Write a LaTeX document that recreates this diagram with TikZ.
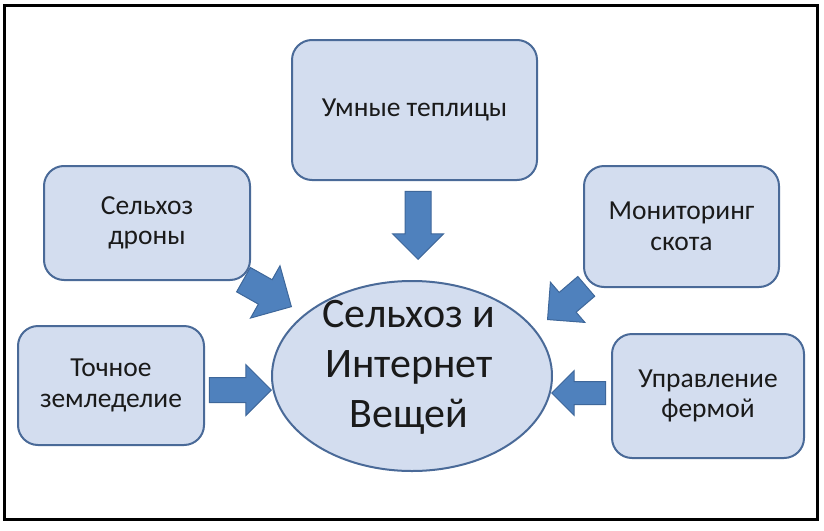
\documentclass[tikz,border=0pt]{standalone}
\usepackage{fontspec}
\setmainfont{Carlito}
\usetikzlibrary{shapes.geometric,shapes.arrows}
\definecolor{boxfill}{HTML}{D3DDEF}
\definecolor{boxline}{HTML}{4A6A98}
\definecolor{arrfill}{HTML}{4F81BD}
\definecolor{arrline}{HTML}{3E679A}
\definecolor{txt}{HTML}{1A1A1A}
\tikzset{
  topic/.style={draw=boxline, line width=2pt, fill=boxfill, rounded corners=20pt,
    align=center, text=txt, font=\fontsize{27.5}{30.5}\selectfont, inner sep=0pt},
  hub/.style={ellipse, draw=boxline, line width=2pt, fill=boxfill, inner sep=0pt,
    minimum width=280pt, minimum height=190pt},
  blockarrow/.style={single arrow, draw=arrline, line width=1pt, fill=arrfill,
    inner xsep=0pt, single arrow head indent=0pt, anchor=tip},
}
\begin{document}
\begin{tikzpicture}[x=1pt, y=-1pt]
\useasboundingbox (0,0) rectangle (824,530);
\node[draw=black, line width=3pt, minimum width=812.5pt, minimum height=514pt, inner sep=0pt] (frame) at (410.75,262.5) {};

\node[hub] (hubnode) at (412,376) {};
\node[align=center, text=txt, font=\fontsize{42}{50}\selectfont, inner sep=0pt] (hubtext) at (409,367) {Сельхоз и\\Интернет\\Вещей};

\node[topic, minimum width=245pt, minimum height=140pt] (tep) at (414.5,110) {Умные теплицы};
\node[topic, minimum width=206pt, minimum height=114pt] (dron) at (147,223) {Сельхоз\\дроны};
\node[topic, minimum width=195pt, minimum height=121pt] (mon) at (681.5,226.5) {Мониторинг\\скота};
\node[topic, minimum width=186pt, minimum height=119pt] (toch) at (111,385.5) {Точное\\земледелие};
\node[topic, minimum width=192pt, minimum height=124pt] (upr) at (708,396) {Управление\\фермой};

\node[blockarrow, inner ysep=12.5pt, single arrow head extend=12.5pt, minimum height=68pt, rotate=-90] (a1) at (418,260) {};
\node[blockarrow, inner ysep=12pt, single arrow head extend=13pt, minimum height=62pt] (a2) at (272,390) {};
\node[blockarrow, inner ysep=11pt, single arrow head extend=11pt, minimum height=54pt, rotate=180] (a3) at (551,393) {};
\node[blockarrow, inner ysep=13.5pt, single arrow head extend=16pt, minimum height=55pt, rotate=-29.4] (a4) at (292,307) {};
\node[blockarrow, inner ysep=12.5pt, single arrow head extend=13.5pt, minimum height=51pt, rotate=220.6] (a5) at (547,320) {};
\end{tikzpicture}
\end{document}
